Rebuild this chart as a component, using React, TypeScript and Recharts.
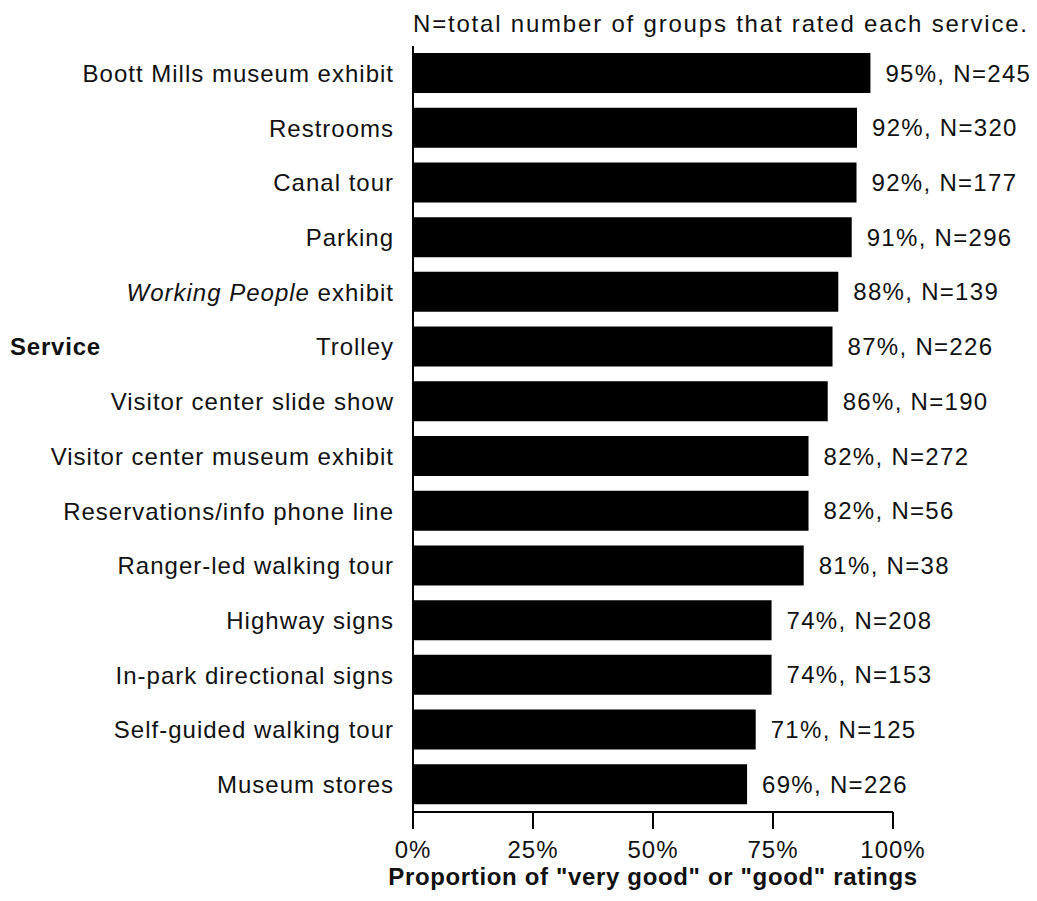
import React from "react";
import { BarChart, Bar, XAxis, YAxis, LabelList, Customized, Label } from "recharts";

const categories = [
  "Boott Mills museum exhibit",
  "Restrooms",
  "Canal tour",
  "Parking",
  "Working People exhibit",
  "Trolley",
  "Visitor center slide show",
  "Visitor center museum exhibit",
  "Reservations/info phone line",
  "Ranger-led walking tour",
  "Highway signs",
  "In-park directional signs",
  "Self-guided walking tour",
  "Museum stores",
];
// bar lengths
const barValues = [95.3, 92.5, 92.4, 91.4, 88.6, 87.4, 86.4, 82.4, 82.4, 81.4, 74.7, 74.7, 71.4, 69.6];
// printed labels
const percentLabels = [95, 92, 92, 91, 88, 87, 86, 82, 82, 81, 74, 74, 71, 69];
const counts = [245, 320, 177, 296, 139, 226, 190, 272, 56, 38, 208, 153, 125, 226];
const xTicks = [0, 25, 50, 75, 100];

const data = categories.map((c, i) => ({
  name: c,
  value: barValues[i],
  label: `${percentLabels[i]}%, N=${counts[i]}`,
}));

const FONT = "'Liberation Sans', Arial, Helvetica, sans-serif";
const FS = 24;
const LS = 1;

const YTick = (props: any) => {
  const { x, y, payload } = props;
  const v: string = payload.value;
  if (v === "Working People exhibit") {
    return (
      <text x={x} y={y} dy="0.355em" textAnchor="end" fontFamily={FONT} fontSize={FS} letterSpacing={LS} fill="#111">
        <tspan fontStyle="italic">Working People</tspan>
        <tspan>{"  exhibit"}</tspan>
      </text>
    );
  }
  return (
    <g>
      <text x={x} y={y} dy="0.355em" textAnchor="end" fontFamily={FONT} fontSize={FS} letterSpacing={LS} fill="#111">
        {v}
      </text>
      {v === "Trolley" ? (
        <text x={10} y={y} dy="0.355em" textAnchor="start" fontFamily={FONT} fontSize={FS} letterSpacing={0.8} fontWeight="bold" fill="#111">
          Service
        </text>
      ) : null}
    </g>
  );
};

const TopNote = (props: any) => {
  const off = props.offset || {};
  const left = off.left ?? 413;
  return (
    <text x={left} y={32} fontFamily={FONT} fontSize={FS} letterSpacing={1.8} fill="#111">
      N=total number of groups that rated each service.
    </text>
  );
};

export default function App() {
  return (
    <div style={{ position: "absolute", left: 0, top: 0, width: 1037, height: 901, background: "#fff" }}>
      <BarChart
        width={1037}
        height={901}
        data={data}
        layout="vertical"
        margin={{ top: 46, right: 144, bottom: 0, left: 0 }}
      >
        <XAxis
          type="number"
          domain={[0, 100]}
          ticks={xTicks}
          tickFormatter={(v: number) => `${v}%`}
          height={89}
          axisLine={{ stroke: "#000", strokeWidth: 2 }}
          tickLine={{ stroke: "#000", strokeWidth: 2 }}
          tickSize={17}
          tickMargin={12}
          tick={{ fontFamily: FONT, fontSize: FS, fill: "#111", letterSpacing: LS }}
          interval={0}
        >
          <Label
            value={'Proportion of "very good" or "good" ratings'}
            position="insideBottom"
            offset={16}
            style={{ fontFamily: FONT, fontSize: FS, fontWeight: "bold", fill: "#111", letterSpacing: 0.65 }}
          />
        </XAxis>
        <YAxis
          type="category"
          dataKey="name"
          width={413}
          axisLine={{ stroke: "#000", strokeWidth: 2 }}
          tickLine={false}
          tickSize={0}
          tickMargin={19}
          tick={<YTick />}
          interval={0}
        />
        <Bar dataKey="value" fill="#000" barSize={40} isAnimationActive={false}>
          <LabelList
            dataKey="label"
            position="right"
            offset={15}
            style={{ fontFamily: FONT, fontSize: FS, fill: "#111", letterSpacing: 1.3 }}
          />
        </Bar>
        <Customized component={TopNote} />
      </BarChart>
    </div>
  );
}
